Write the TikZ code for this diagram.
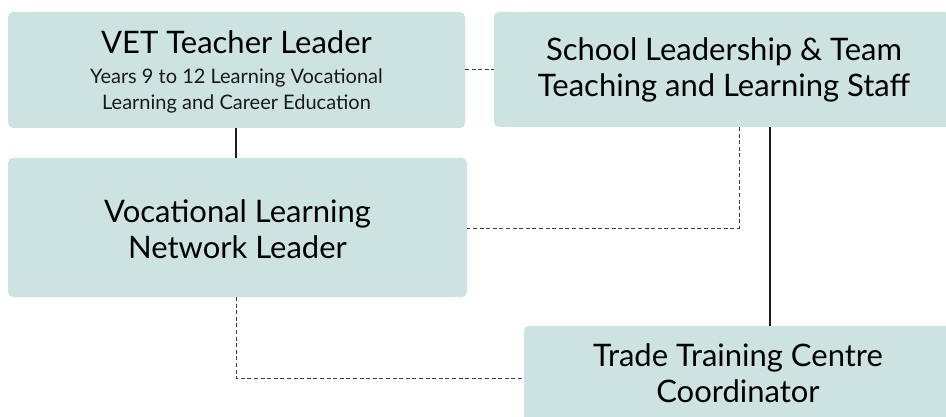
\documentclass[tikz,border=0pt]{standalone}
\usepackage{fontspec}
\setmainfont{Lato}
\definecolor{boxfill}{RGB}{204,227,226}
\definecolor{linecol}{RGB}{30,30,30}
\definecolor{dashcol}{RGB}{60,60,60}
\begin{document}
\begin{tikzpicture}[x=1pt,y=-1pt,
  rolebox/.style={fill=boxfill, draw=none, rounded corners=5pt, inner sep=0pt},
  titletext/.style={font=\fontsize{31}{36}\selectfont, align=center, text=black},
  subtext/.style={font=\fontsize{20}{26}\selectfont, align=center, text=black!90},
  solidlink/.style={draw=linecol, line width=1.4pt},
  dashlink/.style={draw=dashcol, line width=0.9pt, dash pattern=on 4pt off 2.6pt}]
\useasboundingbox (0,0) rectangle (946,417);
% boxes
\path[rolebox] (8,12) rectangle (465,128);
\path[rolebox] (494,12) rectangle (956,127);
\path[rolebox] (8,158) rectangle (467,297);
\path[rolebox] (524,326) rectangle (956,427);
\coordinate (vetB) at (236,128);
\coordinate (vetR) at (465,69);
\coordinate (schL) at (494,69);
\coordinate (schB1) at (739,127); \coordinate (schB2) at (770,127);
\coordinate (vlnT) at (236,158); \coordinate (vlnR) at (467,228);
\coordinate (vlnB) at (236,297);
\coordinate (ttcT) at (770,326); \coordinate (ttcL) at (524,378);
% texts
\node[titletext] (vet) at (236.5,42) {VET Teacher Leader};
\node[subtext] (vetsub) at (236.5,91) {Years 9 to 12 Learning Vocational\\Learning and Career Education};
\node[titletext] (sch) at (724,70) {School Leadership \& Team\\Teaching and Learning Staff};
\node[titletext] (vln) at (237.5,229) {Vocational Learning\\Network Leader};
\node[titletext] (ttc) at (738,373) {Trade Training Centre\\Coordinator};
% connectors
\draw[solidlink] (vetB) -- (vlnT);
\draw[dashlink] (vetR) -- (schL);
\draw[dashlink] (schB1) |- (vlnR);
\draw[solidlink] (schB2) -- (ttcT);
\draw[dashlink] (vlnB) |- (ttcL);
\end{tikzpicture}
\end{document}
